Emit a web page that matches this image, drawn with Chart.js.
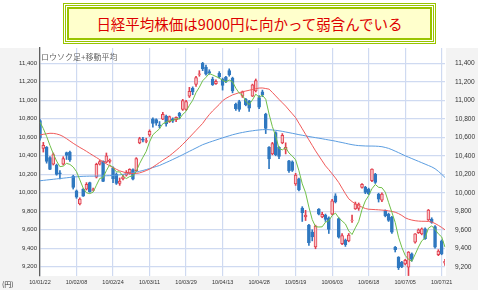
<!DOCTYPE html>
<html>
<head>
<meta charset="utf-8">
<script src="https://cdn.jsdelivr.net/npm/chart.js@4.4.1/dist/chart.umd.min.js"></script>
<style>
  html, body { margin: 0; padding: 0; background: #fff; }
  #wrap { position: relative; width: 478px; height: 290px; overflow: hidden; }
  #candleChart { position: absolute; left: 0; top: 0; }
  .box1 { position: absolute; left: 63px; top: 3px; width: 373px; height: 41px; box-sizing: border-box;
          border: 1px solid #99c400; padding: 1px; background: #fff; }
  .box2 { width: 100%; height: 100%; box-sizing: border-box; border: 1px solid #99c400; padding: 1px; }
  .box3 { width: 100%; height: 100%; box-sizing: border-box; border: 2px solid #99c400; background: #ffffcc;
          display: flex; align-items: center; justify-content: center;
          color: #dd0000; font-family: "Noto Sans CJK JP", sans-serif; font-size: 14.5px; }
  .subtitle { position: absolute; left: 41px; top: 51px; font-family: "Noto Sans CJK JP", sans-serif;
              font-size: 8px; color: #666; line-height: 11px; }
  .unit { position: absolute; left: 2px; top: 279px; font-family: "Noto Sans CJK JP", sans-serif;
          font-size: 7px; color: #333; line-height: 10px; }
</style>
</head>
<body>
<div id="wrap">
  <canvas id="candleChart" width="478" height="290"></canvas>
  <div class="box1"><div class="box2"><div class="box3">日経平均株価は9000円に向かって弱含んでいる</div></div></div>
  <div class="subtitle">ロウソク足+移動平均</div>
  <div class="unit">(円)</div>
</div>
<script>
// Trading days shown on the chart
const dates = [
  '10/01/22','10/01/25','10/01/26','10/01/27','10/01/28','10/01/29','10/02/01','10/02/02','10/02/03','10/02/04',
  '10/02/05','10/02/08','10/02/09','10/02/10','10/02/12','10/02/15','10/02/16','10/02/17','10/02/18','10/02/19',
  '10/02/22','10/02/23','10/02/24','10/02/25','10/02/26','10/03/01','10/03/02','10/03/03','10/03/04','10/03/05',
  '10/03/08','10/03/09','10/03/10','10/03/11','10/03/12','10/03/15','10/03/16','10/03/17','10/03/18','10/03/19',
  '10/03/23','10/03/24','10/03/25','10/03/26','10/03/29','10/03/30','10/03/31','10/04/01','10/04/02','10/04/05',
  '10/04/06','10/04/07','10/04/08','10/04/09','10/04/12','10/04/13','10/04/14','10/04/15','10/04/16','10/04/19',
  '10/04/20','10/04/21','10/04/22','10/04/23','10/04/26','10/04/27','10/04/28','10/04/30','10/05/06','10/05/07',
  '10/05/10','10/05/11','10/05/12','10/05/13','10/05/14','10/05/17','10/05/18','10/05/19','10/05/20','10/05/21',
  '10/05/24','10/05/25','10/05/26','10/05/27','10/05/28','10/05/31','10/06/01','10/06/02','10/06/03','10/06/04',
  '10/06/07','10/06/08','10/06/09','10/06/10','10/06/11','10/06/14','10/06/15','10/06/16','10/06/17','10/06/18',
  '10/06/21','10/06/22','10/06/23','10/06/24','10/06/25','10/06/28','10/06/29','10/06/30','10/07/01','10/07/02',
  '10/07/05','10/07/06','10/07/07','10/07/08','10/07/09','10/07/12','10/07/13','10/07/14','10/07/15','10/07/16',
  '10/07/20','10/07/21','10/07/22'
];

// Daily prices (yen)
const openPrices = [
  10780,10480,10490,10380,10310,10300,10215,10310,10435,10440,
  10180,10020,9880,10040,10040,10110,10025,10170,10310,10340,
  10330,10340,10270,10200,10100,10150,10190,10215,10250,10240,
  10540,10580,10555,10625,10800,10790,10735,10795,10830,10770,
  10800,10790,10860,10900,10900,11045,11130,11170,11280,11400,
  11360,11310,11230,11180,11290,11230,11250,11320,11240,10960,
  10985,11045,11010,10990,11045,11100,11030,11090,10850,10490,
  10420,10650,10490,10540,10470,10345,10335,10095,10150,9835,
  9740,9650,9575,9415,9825,9740,9760,9730,9770,9968,
  9720,9450,9490,9480,9700,9825,9830,10058,10058,10040,
  10130,10200,9986,9920,9807,9770,9735,9412,9304,9250,
  9230,9197,9340,9466,9570,9556,9610,9706,9715,9635,
  9330,9480,9240
];
const highPrices = [
  10790,10545,10500,10390,10430,10310,10240,10390,10440,10450,
  10190,10030,9945,10045,10110,10115,10050,10320,10350,10345,
  10430,10365,10280,10215,10160,10190,10240,10260,10260,10380,
  10600,10600,10590,10680,10810,10800,10770,10870,10840,10830,
  10810,10820,10870,11010,11000,11140,11145,11260,11320,11410,
  11380,11330,11250,11220,11310,11240,11260,11340,11250,10970,
  11000,11100,11020,11000,11175,11230,11050,11110,10860,10500,
  10545,10660,10500,10640,10540,10350,10345,10210,10160,9850,
  9810,9660,9600,9650,9830,9790,9770,9740,9930,9990,
  9730,9560,9500,9560,9760,9900,9890,10100,10070,10050,
  10260,10210,9995,10000,9815,9780,9745,9420,9310,9260,
  9280,9365,9350,9560,9610,9620,9620,9820,9730,9645,
  9385,9490,9280
];
const lowPrices = [
  10570,10440,10320,10250,10300,10190,10150,10300,10360,10340,
  10040,9940,9870,9960,10030,10005,10020,10160,10300,10120,
  10325,10320,10110,10090,10080,10140,10180,10200,10140,10230,
  10530,10550,10540,10610,10710,10730,10700,10790,10720,10760,
  10760,10770,10800,10890,10890,11030,11060,11150,11260,11320,
  11270,11280,11160,11170,11240,11110,11190,11260,11080,10890,
  10880,11030,10940,10880,11040,11090,10910,11040,10640,10260,
  10410,10400,10370,10530,10420,10220,10230,10080,10020,9690,
  9700,9430,9480,9395,9760,9730,9690,9560,9760,9890,
  9510,9440,9420,9470,9680,9820,9810,10050,9990,9980,
  10120,10100,9900,9905,9740,9690,9560,9360,9170,9190,
  9220,9105,9260,9455,9560,9545,9495,9700,9670,9400,
  9320,9330,9215
];
const closePrices = [
  10590,10512,10340,10252,10414,10198,10205,10371,10404,10356,
  10057,9952,9933,9964,10092,10013,10034,10307,10336,10124,
  10400,10352,10150,10102,10126,10172,10222,10253,10146,10369,
  10586,10568,10564,10665,10751,10752,10722,10847,10744,10825,
  10774,10815,10829,10996,10986,11097,11090,11244,11286,11339,
  11282,11293,11168,11204,11252,11161,11205,11274,11102,10909,
  10901,11090,10949,10914,11166,11213,10925,11057,10696,10365,
  10531,10411,10394,10621,10490,10236,10243,10190,10030,9785,
  9758,9460,9523,9640,9769,9768,9712,9603,9914,9901,
  9521,9538,9439,9543,9705,9880,9879,10090,10004,9990,
  10255,10112,9932,9985,9753,9700,9574,9385,9190,9200,
  9270,9358,9280,9556,9600,9610,9505,9814,9680,9412,
  9370,9340,9260
];

// Moving averages
const ma5 = [
  10763,10694,10609,10512,10422,10343,10282,10288,10318,10307,
  10279,10228,10140,10052,10000,9991,10007,10082,10156,10163,
  10240,10304,10272,10226,10226,10180,10154,10175,10184,10232,
  10315,10384,10447,10550,10627,10660,10691,10747,10763,10778,
  10782,10801,10797,10848,10880,10945,11000,11083,11141,11211,
  11248,11289,11274,11257,11240,11216,11198,11219,11199,11130,
  11078,11055,10990,10953,11004,11066,11033,11055,11011,10851,
  10715,10612,10479,10464,10489,10430,10397,10356,10238,10097,
  10001,9845,9711,9633,9630,9632,9682,9698,9753,9780,
  9730,9695,9663,9588,9549,9621,9689,9819,9912,9969,
  10044,10090,10059,10055,10007,9896,9789,9679,9520,9410,
  9324,9281,9260,9333,9413,9481,9510,9617,9642,9604,
  9556,9523,9412
];
const ma25 = [
  10625,10632,10638,10643,10642,10636,10625,10608,10585,10560,
  10535,10512,10490,10470,10448,10425,10403,10381,10358,10335,
  10313,10291,10272,10254,10237,10226,10216,10209,10207,10209,
  10215,10226,10240,10255,10278,10302,10327,10351,10375,10399,
  10428,10458,10489,10524,10560,10598,10636,10674,10712,10750,
  10800,10845,10885,10920,10955,10995,11020,11040,11058,11070,
  11082,11092,11100,11108,11116,11125,11132,11133,11127,11120,
  11085,11047,11009,10973,10937,10895,10854,10812,10752,10692,
  10632,10572,10513,10453,10399,10345,10291,10250,10205,10160,
  10110,10050,9990,9935,9905,9880,9862,9845,9830,9822,
  9820,9818,9816,9813,9810,9805,9798,9790,9775,9755,
  9730,9715,9705,9698,9694,9692,9692,9690,9684,9668,
  9648,9625,9600
];
const ma75 = [
  10130,10134,10138,10142,10146,10150,10154,10158,10162,10166,
  10170,10173,10176,10178,10179,10180,10180,10181,10182,10183,
  10184,10185,10187,10190,10194,10199,10204,10209,10216,10224,
  10232,10241,10251,10262,10273,10284,10295,10311,10327,10343,
  10360,10377,10394,10412,10430,10448,10466,10484,10502,10520,
  10533,10546,10558,10570,10582,10594,10605,10616,10627,10636,
  10645,10652,10659,10665,10670,10675,10679,10682,10683,10682,
  10679,10675,10670,10664,10657,10650,10643,10636,10628,10622,
  10615,10608,10602,10596,10590,10584,10577,10571,10565,10558,
  10550,10543,10535,10527,10520,10514,10510,10508,10506,10505,
  10505,10504,10502,10498,10490,10480,10466,10450,10434,10417,
  10400,10385,10370,10355,10340,10325,10310,10295,10280,10260,
  10232,10200,10165
];

const yTicks = [9200, 9400, 9600, 9800, 10000, 10200, 10400, 10600, 10800, 11000, 11200, 11400];
const labelEvery = 11;

const upFill = '#f7c3c6';
const upLine = '#e2404f';
const downColor = '#2f78c0';
const gridColor = '#cfdaf1';

const isUp = i => closePrices[i] >= openPrices[i];

// grey panel behind the axes, white plot area
const panelBg = {
  id: 'panelBg',
  beforeDraw(chart) {
    const { ctx, chartArea } = chart;
    ctx.save();
    ctx.fillStyle = '#f3f3f3';
    ctx.fillRect(0, chartArea.top, chart.width, chart.height - chartArea.top);
    ctx.fillStyle = '#ffffff';
    ctx.fillRect(chartArea.left, chartArea.top, chartArea.right - chartArea.left + 1, chartArea.bottom - chartArea.top);
    ctx.restore();
  }
};

const tickFont = { family: '"Liberation Sans", Arial, sans-serif', size: 6 };

new Chart(document.getElementById('candleChart'), {
  type: 'bar',
  data: {
    labels: dates,
    datasets: [
      {
        type: 'line', label: '5日', data: ma5, borderColor: '#70bf48', borderWidth: 1,
        pointRadius: 0, tension: 0, order: 0
      },
      {
        type: 'line', label: '25日', data: ma25, borderColor: '#f05a5a', borderWidth: 1,
        pointRadius: 0, tension: 0, order: 0
      },
      {
        type: 'line', label: '75日', data: ma75, borderColor: '#5b9de0', borderWidth: 1,
        pointRadius: 0, tension: 0, order: 0
      },
      {
        label: 'body',
        data: dates.map((d, i) => [openPrices[i], closePrices[i]]),
        backgroundColor: ctx => isUp(ctx.dataIndex) ? upFill : downColor,
        borderColor: ctx => isUp(ctx.dataIndex) ? upLine : downColor,
        borderWidth: 1,
        borderSkipped: false,
        barThickness: 3,
        grouped: false,
        order: 1
      },
      {
        label: 'wick',
        data: dates.map((d, i) => [lowPrices[i], highPrices[i]]),
        backgroundColor: ctx => isUp(ctx.dataIndex) ? upLine : downColor,
        borderWidth: 0,
        barThickness: 1,
        grouped: false,
        order: 2
      }
    ]
  },
  options: {
    responsive: false,
    animation: false,
    layout: { padding: { top: 48, left: 0, right: 0, bottom: 0 } },
    plugins: { legend: { display: false }, tooltip: { enabled: false } },
    scales: {
      x: {
        type: 'category',
        offset: false,
        grid: { offset: false, color: gridColor, lineWidth: 1.2, drawTicks: false },
        border: { display: false },
        ticks: { autoSkip: false, maxRotation: 0, minRotation: 0, font: { ...tickFont, size: 5.5 }, color: '#333', padding: 3 },
        afterBuildTicks: s => { s.ticks = s.ticks.filter(t => t.value % labelEvery === 0); },
        afterFit: s => { s.height = 13; }
      },
      y: {
        position: 'left',
        min: 9100,
        max: 11565,
        afterBuildTicks: s => { s.ticks = yTicks.map(v => ({ value: v })); },
        ticks: { callback: v => v.toLocaleString('en-US'), font: tickFont, color: '#333', padding: 3 },
        grid: { color: gridColor, lineWidth: 1.2, drawTicks: false },
        border: { display: true, color: '#5f5f5f', width: 1.3 },
        afterFit: s => { s.width = 40; }
      },
      y2: {
        position: 'right',
        min: 9100,
        max: 11565,
        afterBuildTicks: s => { s.ticks = yTicks.map(v => ({ value: v })); },
        ticks: { callback: v => v.toLocaleString('en-US'), font: { ...tickFont, size: 6.6 }, color: '#333', padding: 10 },
        grid: { display: false, drawTicks: false },
        border: { display: false },
        afterFit: s => { s.width = 33; }
      }
    }
  },
  plugins: [panelBg]
});
</script>
</body>
</html>
